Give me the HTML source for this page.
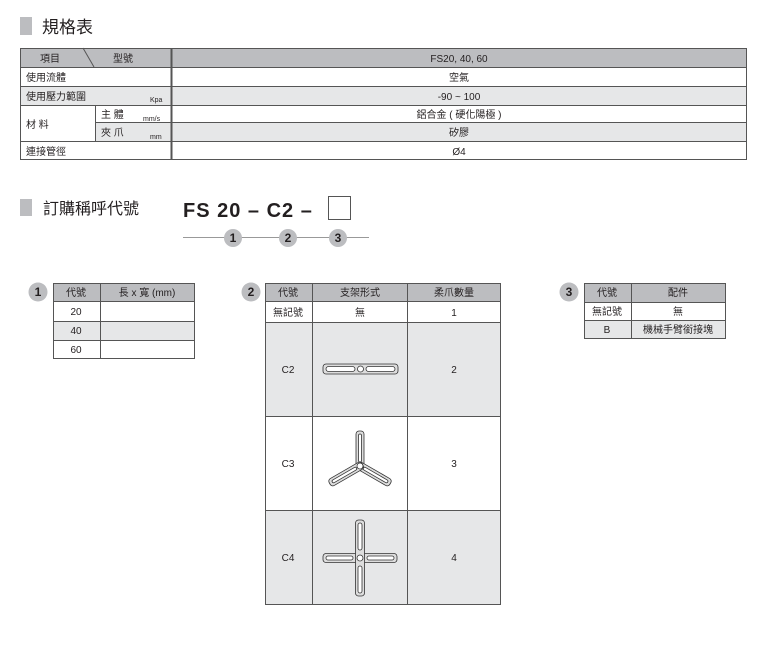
<!DOCTYPE html>
<html><head><meta charset="utf-8"><style>
body{margin:0;background:#fff;}
svg{display:block;font-family:"Liberation Sans","Noto Sans CJK TC",sans-serif;}
</style></head><body>
<svg width="768" height="657" viewBox="0 0 768 657" xmlns="http://www.w3.org/2000/svg">
<rect x="20" y="17" width="12" height="18" fill="#bcbdc0"/>
<text x="42" y="33" font-size="17" fill="#231f20">規格表</text>

<rect x="20" y="48" width="727" height="19" fill="#bcbdc0"/>
<rect x="20" y="86" width="727" height="19" fill="#e6e7e8"/>
<rect x="95" y="122" width="652" height="19" fill="#e6e7e8"/>
<g stroke="#555" stroke-width="1" fill="none">
<rect x="20.5" y="48.5" width="726" height="111"/>
<line x1="20" y1="67.5" x2="747" y2="67.5"/>
<line x1="20" y1="86.5" x2="747" y2="86.5"/>
<line x1="20" y1="105.5" x2="747" y2="105.5"/>
<line x1="95" y1="122.5" x2="747" y2="122.5"/>
<line x1="20" y1="141.5" x2="747" y2="141.5"/>
<line x1="95.5" y1="105" x2="95.5" y2="141"/>
<line x1="83" y1="48" x2="94" y2="67"/>
</g>
<line x1="171.5" y1="48" x2="171.5" y2="160" stroke="#555" stroke-width="2"/>
<g font-size="10" fill="#231f20">
<text x="40" y="62">項目</text>
<text x="113" y="62">型號</text>
<text x="26" y="81">使用流體</text>
<text x="26" y="100">使用壓力範圍</text>
<text x="150" y="102" font-size="7">Kpa</text>
<text x="26" y="128">材 料</text>
<text x="101" y="118">主 體</text>
<text x="143" y="121" font-size="7">mm/s</text>
<text x="101" y="136">夾 爪</text>
<text x="150" y="139" font-size="7">mm</text>
<text x="26" y="155">連接管徑</text>
<g text-anchor="middle">
<text x="459" y="62">FS20, 40, 60</text>
<text x="459" y="81">空氣</text>
<text x="459" y="100">-90 ~ 100</text>
<text x="459" y="118">鋁合金 ( 硬化陽極 )</text>
<text x="459" y="136">矽膠</text>
<text x="459" y="155">Ø4</text>
</g>
</g>

<rect x="20" y="199" width="12" height="17" fill="#bcbdc0"/>
<text x="43" y="214" font-size="16" fill="#231f20">訂購稱呼代號</text>
<text x="183" y="217" font-size="20" font-weight="bold" fill="#231f20" letter-spacing="1">FS  20 – C2 –</text>
<rect x="328.5" y="196.5" width="22" height="23" fill="#fff" stroke="#555"/>
<line x1="183" y1="237.5" x2="369" y2="237.5" stroke="#999"/>
<g font-size="12" font-weight="bold" fill="#231f20" text-anchor="middle">
<circle cx="233" cy="238" r="9" fill="#bcbdc0"/><text x="233" y="242">1</text>
<circle cx="288" cy="238" r="9" fill="#bcbdc0"/><text x="288" y="242">2</text>
<circle cx="338" cy="238" r="9" fill="#bcbdc0"/><text x="338" y="242">3</text>
<circle cx="38" cy="292" r="9.5" fill="#bcbdc0"/><text x="38" y="296">1</text>
<circle cx="251" cy="292" r="9.5" fill="#bcbdc0"/><text x="251" y="296">2</text>
<circle cx="569" cy="292" r="9.5" fill="#bcbdc0"/><text x="569" y="296">3</text>
</g>

<rect x="53" y="283" width="142" height="18" fill="#bcbdc0"/>
<rect x="53" y="321" width="142" height="19" fill="#e6e7e8"/>
<g stroke="#555" fill="none">
<rect x="53.5" y="283.5" width="141" height="75"/>
<line x1="53" y1="301.5" x2="195" y2="301.5"/>
<line x1="53" y1="321.5" x2="195" y2="321.5"/>
<line x1="53" y1="340.5" x2="195" y2="340.5"/>
<line x1="100.5" y1="283" x2="100.5" y2="359"/>
</g>
<g font-size="10" fill="#231f20" text-anchor="middle">
<text x="76" y="296">代號</text><text x="147" y="296">長 x 寬 (mm)</text>
<text x="76" y="315">20</text><text x="76" y="334">40</text><text x="76" y="353">60</text>
</g>

<rect x="265" y="283" width="236" height="18" fill="#bcbdc0"/>
<rect x="265" y="322" width="236" height="94" fill="#e6e7e8"/>
<rect x="265" y="510" width="236" height="95" fill="#e6e7e8"/>
<g stroke="#555" fill="none">
<rect x="265.5" y="283.5" width="235" height="321"/>
<line x1="265" y1="301.5" x2="501" y2="301.5"/>
<line x1="265" y1="322.5" x2="501" y2="322.5"/>
<line x1="265" y1="416.5" x2="501" y2="416.5"/>
<line x1="265" y1="510.5" x2="501" y2="510.5"/>
<line x1="312.5" y1="283" x2="312.5" y2="605"/>
<line x1="407.5" y1="283" x2="407.5" y2="605"/>
</g>
<g font-size="10" fill="#231f20" text-anchor="middle">
<text x="288" y="296">代號</text><text x="360" y="296">支架形式</text><text x="454" y="296">柔爪數量</text>
<text x="288" y="316">無記號</text><text x="360" y="316">無</text><text x="454" y="316">1</text>
<text x="288" y="373">C2</text><text x="454" y="373">2</text>
<text x="288" y="467">C3</text><text x="454" y="467">3</text>
<text x="288" y="561">C4</text><text x="454" y="561">4</text>
</g>
<g stroke="#333" stroke-width="0.8" fill="#fff">
<rect x="323" y="364" width="75" height="10" rx="3" fill="#ddd"/>
<rect x="326" y="366.5" width="29" height="5" rx="2.5"/>
<rect x="366" y="366.5" width="29" height="5" rx="2.5"/>
<circle cx="360.5" cy="369" r="3"/>
<g transform="translate(360,466)">
<rect x="-4" y="-35" width="8" height="38" rx="3" fill="#ddd"/>
<rect x="-1.5" y="-32" width="3" height="28" rx="1.5"/>
<g transform="rotate(120)"><rect x="-4" y="-35" width="8" height="38" rx="3" fill="#ddd"/><rect x="-1.5" y="-32" width="3" height="28" rx="1.5"/></g>
<g transform="rotate(240)"><rect x="-4" y="-35" width="8" height="38" rx="3" fill="#ddd"/><rect x="-1.5" y="-32" width="3" height="28" rx="1.5"/></g>
<circle cx="0" cy="0" r="3"/>
</g>
<g transform="translate(360,558)">
<rect x="-37" y="-4.5" width="74" height="9" rx="3" fill="#ddd"/>
<rect x="-4.5" y="-38" width="9" height="76" rx="3" fill="#ddd"/>
<rect x="-34" y="-2" width="27" height="4" rx="2"/>
<rect x="7" y="-2" width="27" height="4" rx="2"/>
<rect x="-2" y="-35" width="4" height="27" rx="2"/>
<rect x="-2" y="8" width="4" height="27" rx="2"/>
<circle cx="0" cy="0" r="3"/>
</g>
</g>

<rect x="584" y="283" width="142" height="19" fill="#bcbdc0"/>
<rect x="584" y="320" width="142" height="19" fill="#e6e7e8"/>
<g stroke="#555" fill="none">
<rect x="584.5" y="283.5" width="141" height="55"/>
<line x1="584" y1="302.5" x2="726" y2="302.5"/>
<line x1="584" y1="320.5" x2="726" y2="320.5"/>
<line x1="631.5" y1="283" x2="631.5" y2="339"/>
</g>
<g font-size="10" fill="#231f20" text-anchor="middle">
<text x="607" y="296">代號</text><text x="678" y="296">配件</text>
<text x="607" y="315">無記號</text><text x="678" y="315">無</text>
<text x="607" y="333">B</text><text x="678" y="333">機械手臂銜接塊</text>
</g>
</svg>
</body></html>
